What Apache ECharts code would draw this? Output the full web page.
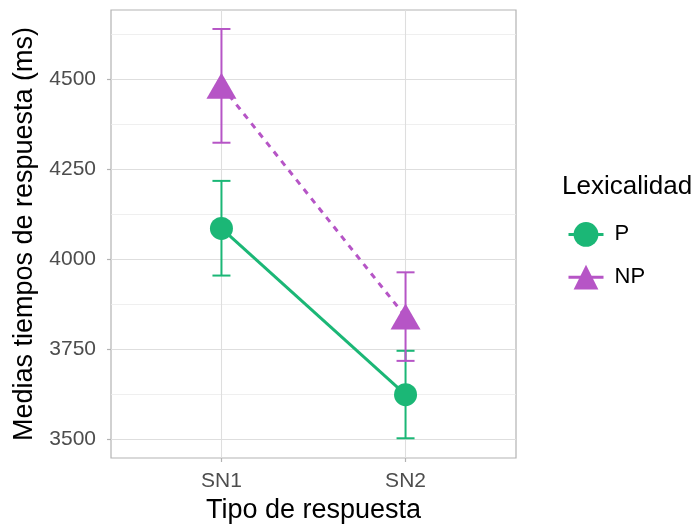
<!DOCTYPE html>
<html>
<head>
<meta charset="utf-8">
<script src="https://cdn.jsdelivr.net/npm/echarts@6/dist/echarts.min.js"></script>
<style>html,body{margin:0;padding:0;background:#fff;}#c{width:696px;height:525px;}</style>
</head>
<body>
<div id="c"></div>
<script>
const categories = ['SN1', 'SN2'];
const seriesNames = ['P', 'NP'];
const pMean = [4085, 3623];
const pLow = [3954, 3502];
const pHigh = [4217, 3745];
const npMean = [4481, 3840];
const npLow = [4323, 3717];
const npHigh = [4639, 3963];
const yMajorTicks = [3500, 3750, 4000, 4250, 4500];
const yMinorTicks = [3625, 3875, 4125, 4375, 4625];
const xTicks = [1, 2];

const green = '#1BB776';
const purple = '#B655C6';
const FONT = '"Liberation Sans", Arial, sans-serif';

function errData(low, high) {
  return categories.map((c, i) => [i + 1, low[i], high[i]]);
}
function meanData(mean) {
  return categories.map((c, i) => [i + 1, mean[i]]);
}
function errRender(color) {
  return function (params, api) {
    const x = api.value(0);
    const lo = api.coord([x, api.value(1)]);
    const hi = api.coord([x, api.value(2)]);
    const hw = 9;
    const style = { stroke: color, lineWidth: 2, fill: null };
    return {
      type: 'group',
      children: [
        { type: 'line', shape: { x1: lo[0], y1: lo[1], x2: hi[0], y2: hi[1] }, style },
        { type: 'line', shape: { x1: lo[0] - hw, y1: lo[1], x2: lo[0] + hw, y2: lo[1] }, style },
        { type: 'line', shape: { x1: hi[0] - hw, y1: hi[1], x2: hi[0] + hw, y2: hi[1] }, style }
      ]
    };
  };
}

const chart = echarts.init(document.getElementById('c'), null, { renderer: 'canvas' });
chart.setOption({
  animation: false,
  backgroundColor: '#fff',
  textStyle: { fontFamily: FONT },
  title: {
    text: 'Lexicalidad', left: 557, top: 169,
    textStyle: { fontFamily: FONT, fontSize: 26, fontWeight: 'normal', color: '#000' }
  },
  legend: {
    orient: 'vertical', left: 562, top: 217,
    itemWidth: 35, itemHeight: 31, itemGap: 18,
    data: seriesNames,
    lineStyle: { width: 3, type: 'solid' },
    textStyle: { fontFamily: FONT, fontSize: 22, color: '#000', padding: [0, 0, 0, 6] }
  },
  grid: {
    left: 111, top: 10, right: 180, bottom: 67,
    outerBoundsMode: 'none', containLabel: false,
    show: true, borderColor: '#B3B3B3', borderWidth: 1.2, backgroundColor: 'transparent'
  },
  xAxis: [{
    type: 'value', min: 0.4, max: 2.6,
    name: 'Tipo de respuesta', nameLocation: 'middle', nameGap: 38,
    nameTextStyle: { fontFamily: FONT, fontSize: 27, color: '#000' },
    axisLine: { show: false },
    axisTick: { show: true, length: 4, customValues: xTicks, lineStyle: { color: '#B3B3B3', width: 1.2 } },
    axisLabel: { customValues: xTicks, formatter: v => categories[Math.round(v) - 1] || '', margin: 13,
      fontFamily: FONT, fontSize: 21, color: '#4D4D4D' },
    splitLine: { show: true, lineStyle: { color: '#DEDEDE', width: 1.1 } }
  }],
  yAxis: [{
    type: 'value', min: 3447.2, max: 4691.7,
    name: 'Medias tiempos de respuesta (ms)', nameLocation: 'middle', nameGap: 71,
    nameTextStyle: { fontFamily: FONT, fontSize: 27, color: '#000' },
    axisLine: { show: false },
    axisTick: { show: true, length: 4, customValues: yMajorTicks, lineStyle: { color: '#B3B3B3', width: 1.2 } },
    axisLabel: { customValues: yMajorTicks, formatter: v => String(v), margin: 15,
      fontFamily: FONT, fontSize: 21, color: '#4D4D4D' },
    splitLine: { show: true, lineStyle: { color: '#DEDEDE', width: 1.1 } }
  }, {
    type: 'value', min: 3447.2, max: 4691.7, position: 'left',
    axisLine: { show: false },
    axisTick: { show: false, customValues: yMinorTicks },
    axisLabel: { show: false, customValues: yMinorTicks },
    splitLine: { show: true, lineStyle: { color: '#EBEBEB', width: 0.8 } }
  }],
  series: [
    {
      name: 'P', type: 'line', data: meanData(pMean),
      symbol: 'circle', symbolSize: 23, z: 4,
      itemStyle: { color: green }, lineStyle: { color: green, width: 3 }
    },
    {
      name: 'NP', type: 'line', data: meanData(npMean),
      symbol: 'triangle', symbolSize: [30, 26], z: 4,
      itemStyle: { color: purple }, lineStyle: { color: purple, width: 3, type: [6, 6] }
    },
    { type: 'custom', name: 'P', data: errData(pLow, pHigh), renderItem: errRender(green), z: 3, encode: { x: 0, y: [1, 2] } },
    { type: 'custom', name: 'NP', data: errData(npLow, npHigh), renderItem: errRender(purple), z: 3, encode: { x: 0, y: [1, 2] } }
  ]
});
</script>
</body>
</html>
